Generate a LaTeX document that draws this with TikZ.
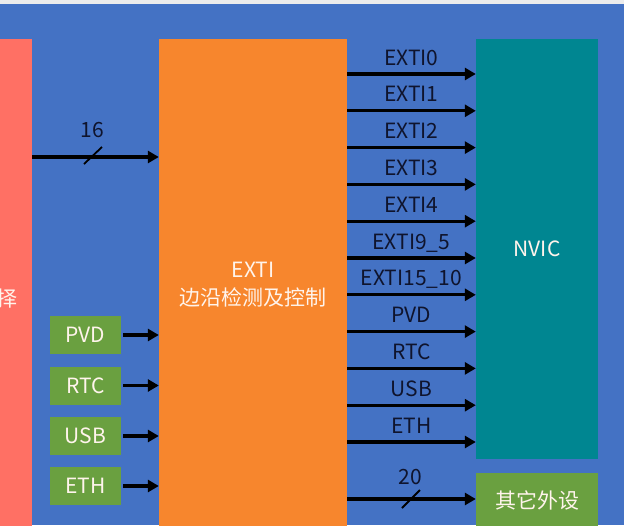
\documentclass[tikz,border=0pt]{standalone}
\usepackage{fontspec}
\setmainfont{Noto Sans CJK SC}
\usepackage{tikz}
\usetikzlibrary{arrows.meta,positioning,calc}
\definecolor{bgblue}{RGB}{68,114,196}
\definecolor{selred}{RGB}{255,112,100}
\definecolor{extiorange}{RGB}{247,134,45}
\definecolor{nvicteal}{RGB}{0,134,145}
\definecolor{srcgreen}{RGB}{106,160,64}
\definecolor{labelink}{RGB}{15,20,45}
\definecolor{boxink}{RGB}{255,244,236}
\tikzset{
  blk/.style={rectangle,draw=none,inner sep=0pt,text=boxink,align=center,font=\fontsize{21}{28}\selectfont},
  src/.style={blk,fill=srcgreen,minimum width=71pt,minimum height=38pt},
  sig/.style={line width=3.1pt,-{Triangle[length=11pt,width=12pt]}},
  lbl/.style={text=labelink,inner sep=0pt,font=\fontsize{21}{26}\selectfont},
  bus/.style={line width=1.8pt}
}

\begin{document}
\begin{tikzpicture}[x=1pt,y=-1pt]
\useasboundingbox (0,0) rectangle (624,525);
\clip (0,0) rectangle (624,525);
\fill[bgblue] (0,0) rectangle (624,525);
\fill[gray!15] (0,0) rectangle (624,4);
% blocks
\node (sel) [blk,fill=selred,minimum width=32pt,minimum height=492pt] at (16,285) {};
\node (seltext) [blk] at (7,299) {择};
\node (exti) [blk,fill=extiorange,minimum width=188pt,minimum height=492pt] at (253,285) {EXTI\\边沿检测及控制};
\node (nvic) [blk,fill=nvicteal,minimum width=122pt,minimum height=420pt] at (537,249) {NVIC};
\node (other) [blk,fill=srcgreen,minimum width=122pt,minimum height=54pt] at (537,500) {其它外设};
% 16 lines in
\coordinate (in16) at (32,157);
\draw[sig] (in16) -- (in16 -| exti.west);
\draw[bus] ($(in16)+(52,7)$) -- ($(in16)+(70,-10)$);
\node (n16) [lbl] at (92,130) {16};
% other sources
\foreach \name/\y in {PVD/335,RTC/385.5,USB/436,ETH/486}{
  \node (\name) [src] at (85.5,\y) {\name};
  \draw[sig,shorten <=2pt] (\name) -- (\name -| exti.west);
}
% lines to NVIC
\foreach \lbl [count=\i from 0] in {EXTI0,EXTI1,EXTI2,EXTI3,EXTI4,EXTI9\_5,EXTI15\_10,PVD,RTC,USB,ETH}{
  \coordinate (o\i) at (347,{74+36.8*\i});
  \draw[sig] (o\i) -- (o\i -| nvic.west);
  \node (l\i) [lbl,anchor=base,yshift=9pt] at ($(o\i)!0.5!(o\i -| nvic.west)$) {\lbl};
}
% 20 lines out
\coordinate (in20) at (347,499);
\draw[sig] (in20) -- (in20 -| other.west);
\draw[bus] (402,508) -- (420,490);
\node (n20) [lbl] at (410,477) {20};
\end{tikzpicture}
\end{document}
